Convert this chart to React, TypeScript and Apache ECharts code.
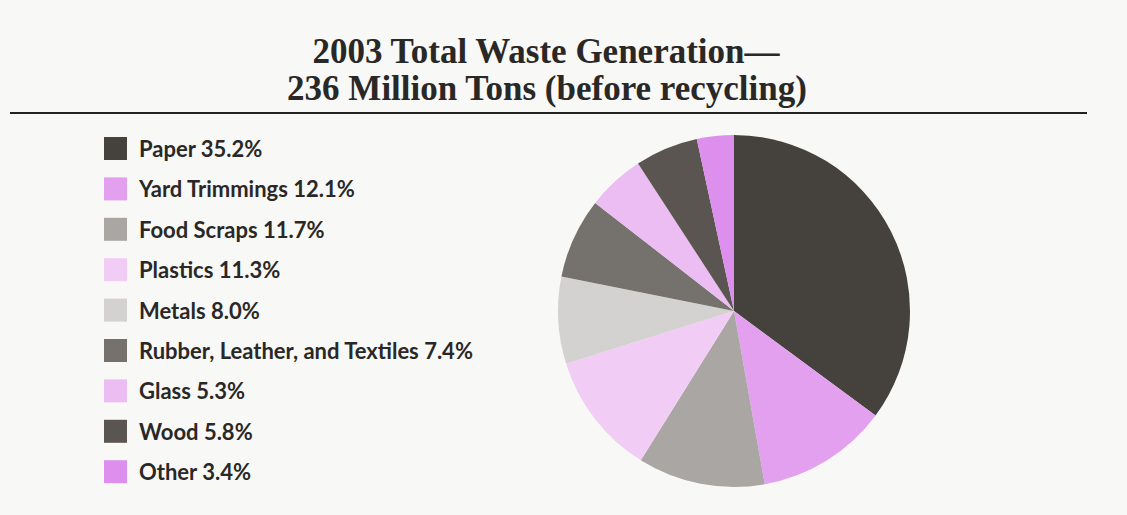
import React, { useEffect, useRef } from "react";
import * as echarts from "echarts";

const categories = [
  "Paper",
  "Yard Trimmings",
  "Food Scraps",
  "Plastics",
  "Metals",
  "Rubber, Leather, and Textiles",
  "Glass",
  "Wood",
  "Other",
];
const percents = [35.2, 12.1, 11.7, 11.3, 8.0, 7.4, 5.3, 5.8, 3.4];
const percentLabels = ["35.2%", "12.1%", "11.7%", "11.3%", "8.0%", "7.4%", "5.3%", "5.8%", "3.4%"];
const colors = [
  "#45423d",
  "#e3a0ee",
  "#a9a6a4",
  "#f1ccf5",
  "#d4d2d0",
  "#75716d",
  "#ecbdf2",
  "#5a5550",
  "#dc8fec",
];
const titleLines = ["2003 Total Waste Generation—", "236 Million Tons (before recycling)"];

export default function App() {
  const ref = useRef<HTMLDivElement>(null);
  useEffect(() => {
    if (!ref.current) return;
    const chart = echarts.init(ref.current, undefined, { renderer: "svg" });
    const titleStyle = {
      fontFamily: "Liberation Serif",
      fontWeight: "bold",
      fontSize: 35,
      lineHeight: 35,
      color: "#2a2826",
    };
    chart.setOption({
      animation: false,
      backgroundColor: "#f8f8f7",
      title: [
        {
          text: titleLines[0],
          left: 546,
          top: 34,
          padding: 0,
          textAlign: "center",
          textStyle: titleStyle,
        },
        {
          text: titleLines[1],
          left: 547,
          top: 71,
          padding: 0,
          textAlign: "center",
          textStyle: titleStyle,
        },
      ],
      legend: {
        orient: "vertical",
        left: 104,
        top: 137,
        padding: 0,
        itemWidth: 23,
        itemHeight: 23,
        itemGap: 17.4,
        icon: "rect",
        data: categories,
        formatter: (name: string) => name + " " + percentLabels[categories.indexOf(name)],
        textStyle: {
          fontFamily: "Lato",
          fontWeight: "bold",
          fontSize: 22,
          color: "#2a2826",
          padding: [0, 0, 0, 7],
        },
      },
      graphic: [
        {
          type: "line",
          shape: { x1: 10, y1: 113, x2: 1087, y2: 113 },
          style: { stroke: "#222", lineWidth: 2.2 },
        },
      ],
      series: [
        {
          type: "pie",
          center: [734, 311],
          radius: 176,
          startAngle: 90,
          clockwise: true,
          label: { show: false },
          labelLine: { show: false },
          itemStyle: { borderWidth: 0 },
          emphasis: { disabled: true },
          data: categories.map((c, i) => ({
            name: c,
            value: percents[i],
            itemStyle: { color: colors[i] },
          })),
        },
      ],
    });
    return () => chart.dispose();
  }, []);
  return (
    <div
      ref={ref}
      style={{ position: "fixed", left: 0, top: 0, width: 1127, height: 515 }}
    />
  );
}
